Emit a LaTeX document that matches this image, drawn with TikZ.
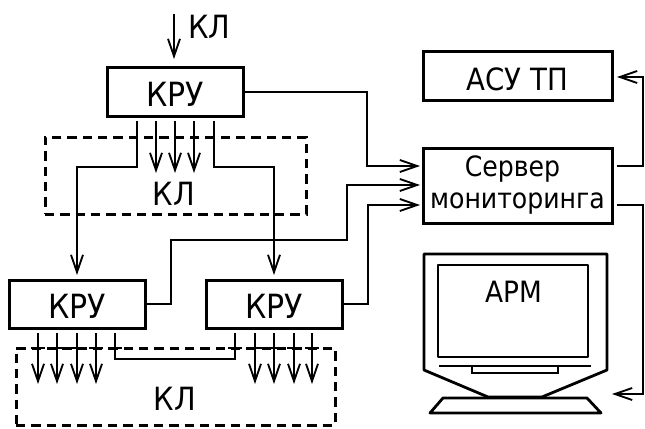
\documentclass[tikz,border=0pt]{standalone}
\usepackage{fontspec}
\setmainfont{DejaVu Sans Condensed}
\usetikzlibrary{positioning, arrows.meta}
\tikzset{
    kru/.style={draw, line width=2.25pt, minimum width=102pt, minimum height=36pt, inner sep=0pt, text height=21pt, text depth=0pt, font=\fontsize{25}{28}\selectfont},
    zone/.style={draw, line width=2.25pt, dash pattern=on 7pt off 4.5pt, inner sep=0pt},
    label/.style={inner sep=0pt, font=\fontsize{24}{28}\selectfont},
    link/.style={line width=1.4pt},
    feed/.style={link, -{Straight Barb[length=13pt, width=9pt, line width=1.4pt]}},
    monitor/.style={line width=2.1pt, line join=round}
}

\begin{document}
\begin{tikzpicture}[x=0.75pt, y=-0.75pt]
    \useasboundingbox (0,0) rectangle (645,428);

    % zones first, so the boxes and links sit over them
    \node[zone, minimum width=195.75pt, minimum height=57.75pt] (zoneTop) at (175.5,175.5) {};
    \node[zone, minimum width=239.25pt, minimum height=57.75pt] (zoneLow) at (175.5,386.5) {};
    \node[label] (zoneTopText) at (174,194) {КЛ};
    \node[label] (zoneLowText) at (175,399) {КЛ};

    \node[kru] (kruTop) at (175,92) {КРУ};
    \node[kru] (kruLeft) at (77,304) {КРУ};
    \node[kru] (kruRight) at (274,304) {КРУ};
    \node[kru, minimum width=141.75pt, font=\fontsize{23}{28}\selectfont] (asu) at (517.5,76) {АСУ ТП};
    \node[kru, minimum width=141.75pt, minimum height=56.25pt, text height=, text depth=, align=center, font=\fontsize{21}{24}\selectfont] (server) at (517.5,185.5) {Сервер\hspace*{7.5pt}\\мониторинга};
    \node[label, anchor=west] (cableIn) at (188,27) {КЛ};

    % input cable
    \coordinate (cableTop) at (174,14);
    \coordinate (cableEnd) at (174,59);
    \draw[feed] (cableTop) -- (cableEnd);

    % from the top switchgear
    \foreach \x in {156,175,194} {
        \coordinate (a\x) at (\x,121);
        \coordinate (b\x) at (\x,173);
        \draw[feed] (a\x) -- (b\x);
    }
    \coordinate (tapL) at (137,121);
    \coordinate (tapR) at (214,121);
    \coordinate (endL) at (77,275);
    \coordinate (endR) at (274,275);
    \draw[feed] (tapL) -- (137,167) -| (endL);
    \draw[feed] (tapR) -- (214,167) -| (endR);

    % outgoing cables below
    \foreach \x in {38,57,77,96,255,274,294,312} {
        \coordinate (c\x) at (\x,333);
        \coordinate (d\x) at (\x,384);
        \draw[feed] (c\x) -- (d\x);
        \draw[link] (\x-7,348) -- (\x+7,348);
    }
    \coordinate (tieL) at (115,333);
    \coordinate (tieR) at (235,333);
    \draw[link] (tieL) -- (115,359) -- (235,359) -- (tieR);
    \draw[link] (108,348) -- (122,348);
    \draw[link] (228,348) -- (242,348);

    % to the server
    \coordinate (srvA) at (420,166);
    \coordinate (srvB) at (420,185);
    \coordinate (srvC) at (420,205);
    \draw[feed] (kruTop.east) -- (367,92) |- (srvA);
    \draw[feed] (kruLeft.east) -- (171,304) -- (171,240) -- (347,240) |- (srvB);
    \draw[feed] (kruRight.east) -- (368,304) |- (srvC);

    % from the server
    \coordinate (outA) at (617,166);
    \coordinate (outB) at (617,205);
    \coordinate (asuEnd) at (617,77);
    \coordinate (armEnd) at (612,394);
    \draw[feed] (outA) -- (643,166) |- (asuEnd);
    \draw[feed] (outB) -- (643,205) |- (armEnd);

    % workstation
    \draw[monitor] (424,254) -- (607,254) -- (607,370) -- (542,397) -- (488,397) -- (424,370) -- cycle;
    \draw[monitor] (443,398) -- (587,398) -- (601,413) -- (430,413) -- cycle;
    \node[draw, monitor, minimum width=112.5pt, minimum height=69pt] (screen) at (513,311) {};
    \draw[link] (439,366) -- (591,366);
    \draw[link] (472,366) -- (472,373) -- (558,373) -- (558,366);
    \node[label, font=\fontsize{22}{24}\selectfont] (arm) at (514,292) {АРМ};
\end{tikzpicture}
\end{document}
